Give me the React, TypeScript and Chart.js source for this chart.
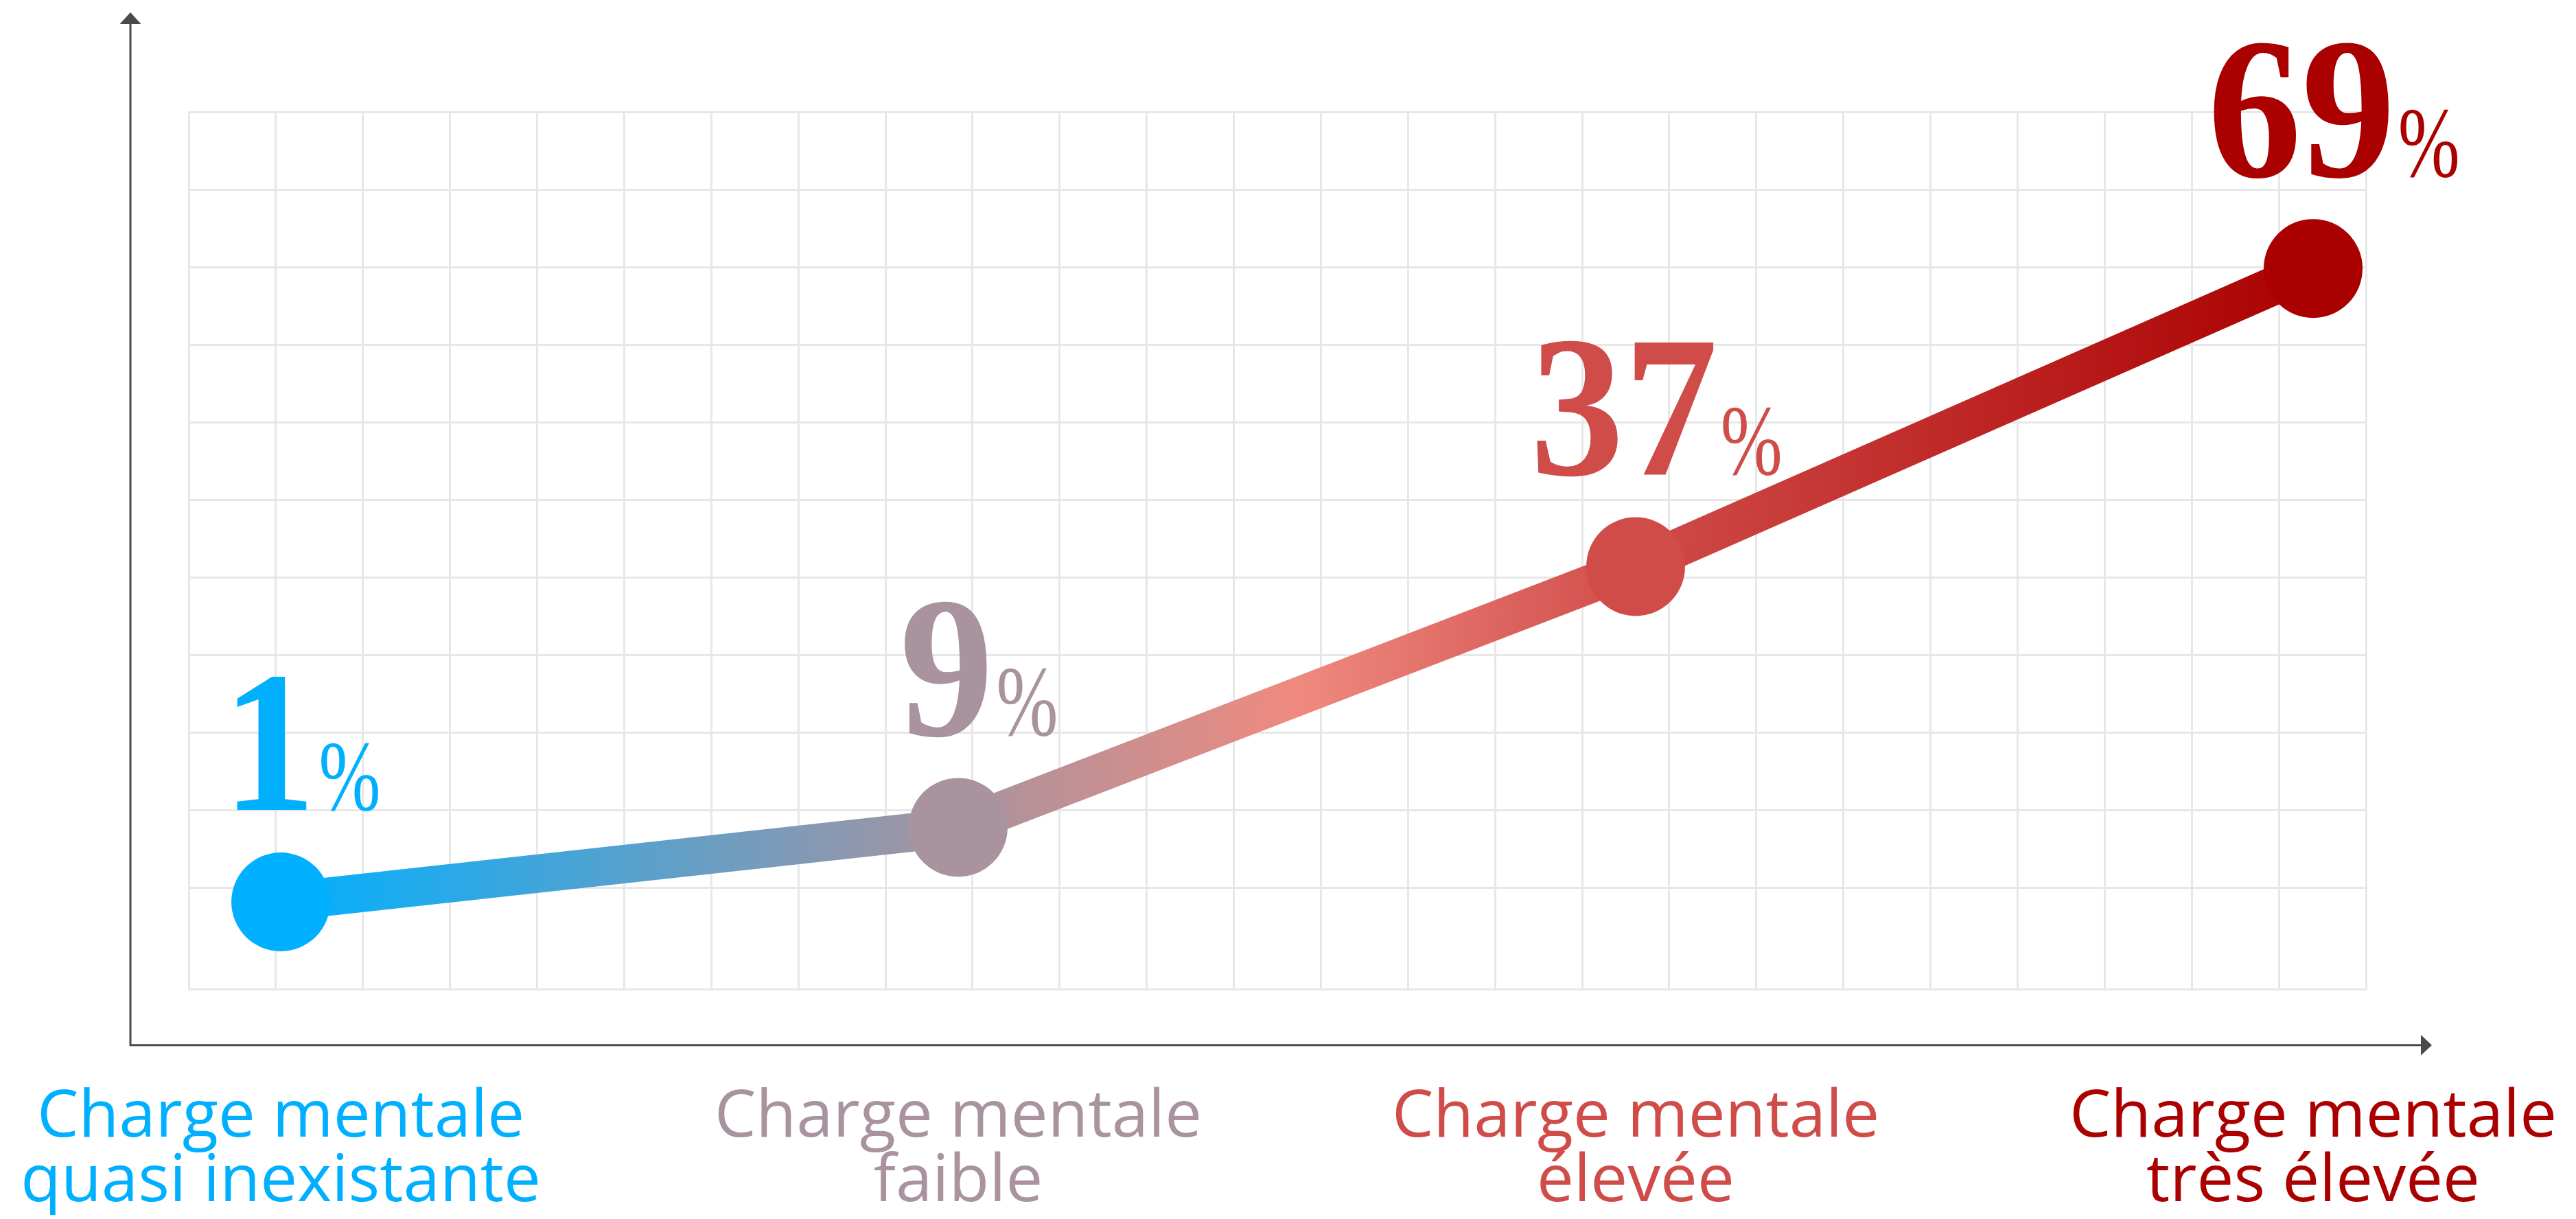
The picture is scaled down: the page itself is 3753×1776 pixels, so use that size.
import React, { useEffect, useRef } from 'react';
import { Chart, registerables } from 'chart.js';

Chart.register(...registerables);

// ---- data ----
const categories: string[][] = [
  ['Charge mentale', 'quasi inexistante'],
  ['Charge mentale', 'faible'],
  ['Charge mentale', 'élevée'],
  ['Charge mentale', 'très élevée'],
];
const values: number[] = [1, 9, 37, 69];
const pointColors: string[] = ['#00b0ff', '#a8939f', '#d04c49', '#aa0000'];
const midLineColor = '#ef8a7f';

const W = 3753;
const H = 1776;

const GRID_COLS = 25;
const GRID_ROWS_MAX = 11.31; // rows of equal height from the top, bottom row taller

export default function App() {
  const ref = useRef<HTMLCanvasElement>(null);

  useEffect(() => {
    const canvas = ref.current;
    if (!canvas) return;

    const makeGradient = (chart: any) => {
      const xs = chart.scales.x;
      const n = values.length;
      const x0 = xs.getPixelForValue(0);
      const x1 = xs.getPixelForValue(n - 1);
      const g = chart.ctx.createLinearGradient(x0, 0, x1, 0);
      values.forEach((_, i) => {
        g.addColorStop((xs.getPixelForValue(i) - x0) / (x1 - x0), pointColors[i]);
      });
      const xm = (xs.getPixelForValue(1) + xs.getPixelForValue(2)) / 2;
      g.addColorStop((xm - x0) / (x1 - x0), midLineColor);
      return g;
    };

    const axesArrows = {
      id: 'axesArrows',
      afterDraw(chart: any) {
        const { ctx, chartArea } = chart;
        const ax = chartArea.left - 85;
        const ay = chartArea.bottom + 81;
        const col = '#4a4a4a';
        ctx.save();
        ctx.strokeStyle = col;
        ctx.fillStyle = col;
        ctx.lineWidth = 3;
        ctx.beginPath();
        ctx.moveTo(ax, 34);
        ctx.lineTo(ax, ay + 1.5);
        ctx.moveTo(ax - 1.5, ay);
        ctx.lineTo(chartArea.right + 80, ay);
        ctx.stroke();
        // up arrow
        ctx.beginPath();
        ctx.moveTo(ax, 18);
        ctx.lineTo(ax - 15.5, 35);
        ctx.lineTo(ax + 15.5, 35);
        ctx.closePath();
        ctx.fill();
        // right arrow
        const tip = chartArea.right + 96;
        ctx.beginPath();
        ctx.moveTo(tip, ay);
        ctx.lineTo(tip - 16, ay - 15);
        ctx.lineTo(tip - 16, ay + 15);
        ctx.closePath();
        ctx.fill();
        ctx.restore();
      },
    };

    const valueLabels = {
      id: 'valueLabels',
      afterDatasetsDraw(chart: any) {
        const { ctx } = chart;
        const meta = chart.getDatasetMeta(0);
        const numFont = 'bold 294px "Liberation Serif"';
        const pctFont = '146px "Liberation Serif"';
        const numSx = 0.93;
        const pctSx = 0.74;
        meta.data.forEach((pt: any, i: number) => {
          const num = String(values[i]);
          ctx.save();
          ctx.fillStyle = pointColors[i];
          ctx.textBaseline = 'alphabetic';
          ctx.textAlign = 'left';
          ctx.font = numFont;
          const wNum = ctx.measureText(num).width * numSx;
          ctx.font = pctFont;
          const wPct = ctx.measureText('%').width * pctSx;
          const gap = 4;
          const total = wNum + gap + wPct;
          const left = pt.x + 30 - total / 2;
          const base = pt.y - 134;
          ctx.save();
          ctx.translate(left, base);
          ctx.scale(numSx, 1);
          ctx.font = numFont;
          ctx.fillText(num, 0, 0);
          ctx.restore();
          ctx.save();
          ctx.translate(left + wNum + gap, base);
          ctx.scale(pctSx, 1);
          ctx.font = pctFont;
          ctx.fillText('%', 0, 0);
          ctx.restore();
          ctx.restore();
        });
      },
    };

    const chart = new Chart(canvas, {
      type: 'line',
      data: {
        datasets: [
          {
            data: values.map((v, i) => ({ x: i, y: v })),
            borderWidth: 56,
            borderColor: (c: any) => (c.chart.chartArea ? makeGradient(c.chart) : pointColors[0]),
            borderCapStyle: 'round',
            borderJoinStyle: 'round',
            tension: 0,
            fill: false,
            pointRadius: 72,
            pointHoverRadius: 72,
            pointBorderWidth: 0,
            pointBackgroundColor: pointColors,
            pointBorderColor: pointColors,
          } as any,
        ],
      },
      options: {
        responsive: false,
        devicePixelRatio: 1,
        animation: false,
        events: [],
        layout: { padding: { left: 275, right: 306, top: 163, bottom: 6 } },
        plugins: {
          legend: { display: false },
          tooltip: { enabled: false },
          title: { display: false },
        },
        scales: {
          x: {
            type: 'linear',
            position: 'bottom',
            min: -0.1358,
            max: 3.078,
            grid: {
              display: true,
              drawOnChartArea: false,
              drawTicks: true,
              tickLength: 140,
              color: 'rgba(0,0,0,0)',
            },
            border: { display: false },
            afterBuildTicks: (axis: any) => {
              axis.ticks = categories.map((_, i) => ({ value: i }));
            },
            ticks: {
              autoSkip: false,
              maxRotation: 0,
              minRotation: 0,
              padding: 0,
              callback: (_v: any, i: number) => categories[i],
              color: (c: any) => pointColors[c.index] ?? '#000',
              font: { family: '"Open Sans", sans-serif', size: 96, lineHeight: 0.98 },
            },
          },
          y: {
            type: 'linear',
            min: -8.42,
            max: 85.81,
            display: false,
          },
          xg: {
            type: 'linear',
            axis: 'x',
            position: 'bottom',
            min: 0,
            max: GRID_COLS,
            ticks: { display: false, stepSize: 1 },
            grid: { color: '#e7e7e7', lineWidth: 3, drawTicks: false },
            border: { display: false },
          },
          yg: {
            type: 'linear',
            axis: 'y',
            position: 'left',
            min: 0,
            max: GRID_ROWS_MAX,
            afterBuildTicks: (axis: any) => {
              const t = [{ value: 0 }];
              for (let k = 0; k <= 10; k++) t.push({ value: GRID_ROWS_MAX - k });
              axis.ticks = t;
            },
            ticks: { display: false },
            grid: { color: '#e7e7e7', lineWidth: 3, drawTicks: false },
            border: { display: false },
          },
        } as any,
      },
      plugins: [axesArrows, valueLabels],
    } as any);

    return () => chart.destroy();
  }, []);

  return (
    <div style={{ position: 'fixed', left: 0, top: 0, width: W, height: H, background: '#fff' }}>
      <canvas ref={ref} width={W} height={H} style={{ display: 'block', width: W, height: H }} />
    </div>
  );
}
